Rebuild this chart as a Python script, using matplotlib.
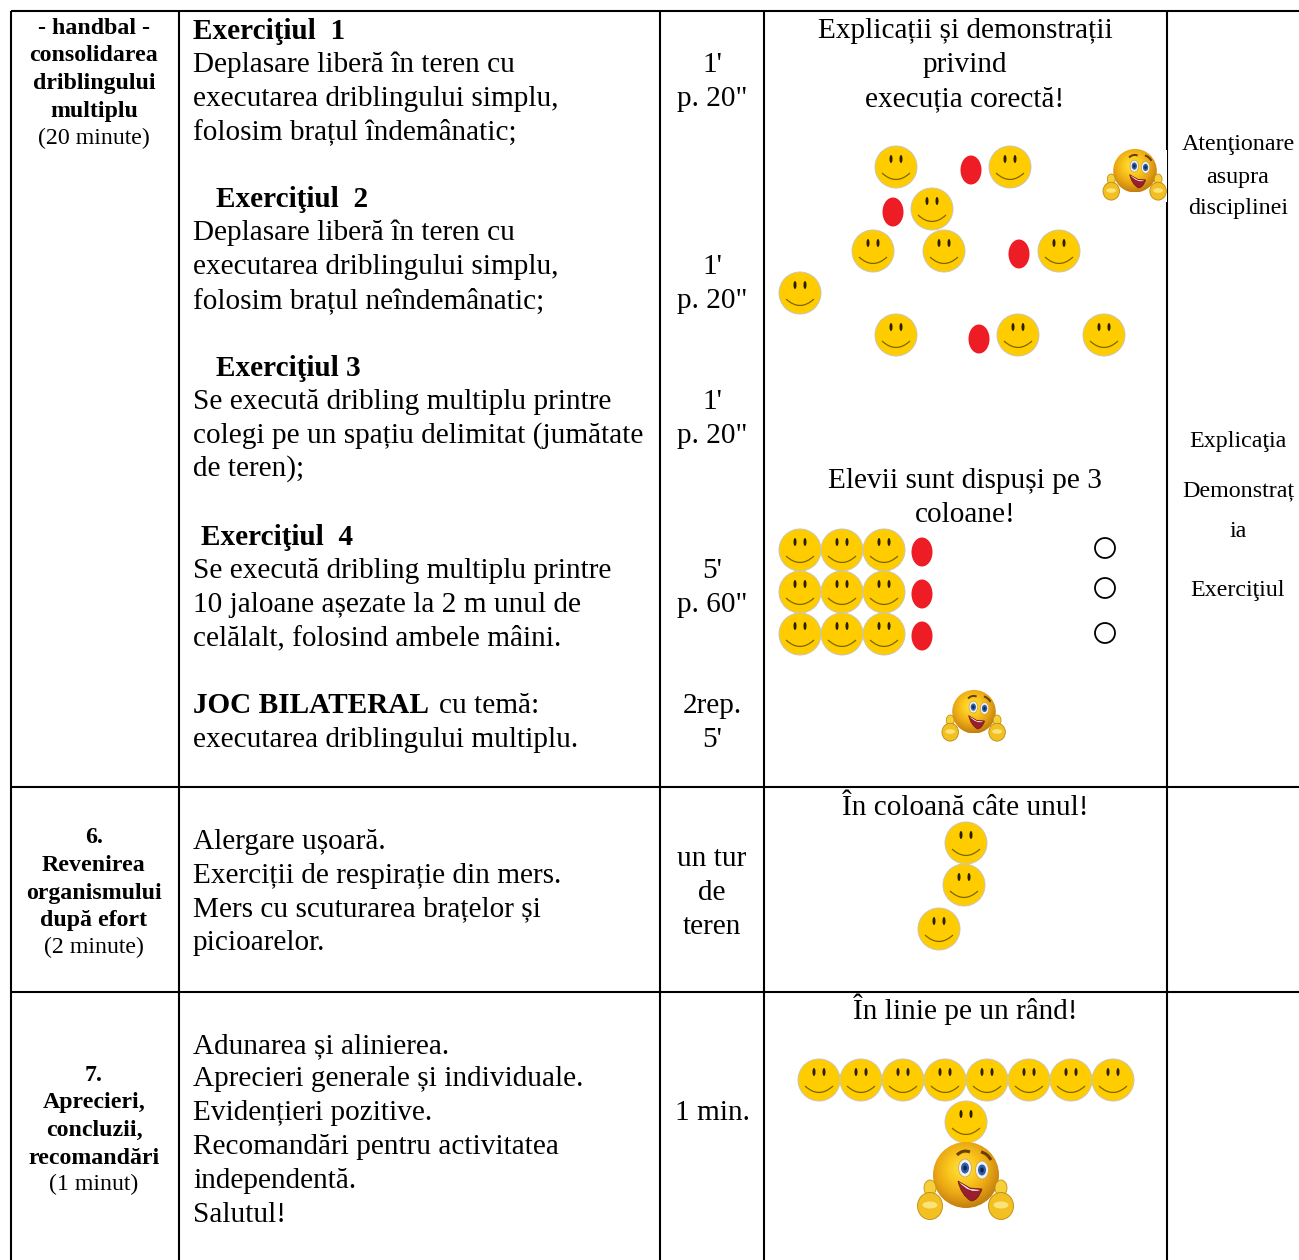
import numpy as np
import matplotlib
matplotlib.use('Agg')
import matplotlib.pyplot as plt
from matplotlib.colors import LinearSegmentedColormap
from matplotlib.patches import Circle, Ellipse, PathPatch, Rectangle
from matplotlib.path import Path

plt.rcParams['font.family'] = ['Liberation Serif', 'DejaVu Serif']

# table grid
col_lines = [11, 179, 660, 764, 1167]
row_lines = [11, 787, 992]

# left column: (baseline, text, bold)
left_col = [
    (34, '- handbal -', True), (61, 'consolidarea', True), (89, 'driblingului', True),
    (117, 'multiplu', True), (144, '(20 minute)', False),
    (843, '6.', True), (871, 'Revenirea', True), (899, 'organismului', True),
    (926, 'după efort', True), (953, '(2 minute)', False),
    (1081, '7.', True), (1108, 'Aprecieri,', True), (1136, 'concluzii,', True),
    (1164, 'recomandări', True), (1190, '(1 minut)', False),
]

# activity column: (x, baseline, text, bold)
main_col = [
    (193, 39, 'Exerciţiul  1', True),
    (193, 72, 'Deplasare liberă în teren cu', False),
    (193, 106, 'executarea driblingului simplu,', False),
    (193, 139, 'folosim brațul îndemânatic;', False),
    (216, 207, 'Exerciţiul  2', True),
    (193, 240, 'Deplasare liberă în teren cu', False),
    (193, 274, 'executarea driblingului simplu,', False),
    (193, 308, 'folosim brațul neîndemânatic;', False),
    (216, 376, 'Exerciţiul 3', True),
    (193, 409, 'Se execută dribling multiplu printre', False),
    (193, 443, 'colegi pe un spațiu delimitat (jumătate', False),
    (193, 476, 'de teren);', False),
    (201, 545, 'Exerciţiul  4', True),
    (193, 578, 'Se execută dribling multiplu printre', False),
    (193, 612, '10 jaloane așezate la 2 m unul de', False),
    (193, 645, 'celălalt, folosind ambele mâini.', False),
    (193, 713, 'JOC BILATERAL', True),
    (439, 713, 'cu temă:', False),
    (193, 747, 'executarea driblingului multiplu.', False),
    (193, 849, 'Alergare ușoară.', False),
    (193, 883, 'Exerciții de respirație din mers.', False),
    (193, 916, 'Mers cu scuturarea brațelor și', False),
    (193, 950, 'picioarelor.', False),
    (193, 1053, 'Adunarea și alinierea.', False),
    (193, 1086, 'Aprecieri generale și individuale.', False),
    (193, 1120, 'Evidențieri pozitive.', False),
    (193, 1154, 'Recomandări pentru activitatea', False),
    (193, 1188, 'independentă.', False),
    (193, 1222, 'Salutul!', False),
]

dose_col = [
    (72, "1'"), (106, 'p. 20"'), (274, "1'"), (308, 'p. 20"'),
    (409, "1'"), (443, 'p. 20"'), (578, "5'"), (612, 'p. 60"'),
    (713, '2rep.'), (747, "5'"), (866, 'un tur'), (900, 'de'), (934, 'teren'),
    (1120, '1 min.'),
]

formation_col = [
    (38, 'Explicații și demonstrații'), (72, 'privind'), (106, 'execuția corectă!'),
    (488, 'Elevii sunt dispuși pe 3'), (522, 'coloane!'),
    (815, 'În coloană câte unul!'), (1019, 'În linie pe un rând!'),
]

method_col = [
    (150, 'Atenţionare'), (183, 'asupra'), (214, 'disciplinei'),
    (447, 'Explicaţia'), (496, 'Demonstraț'), (537, 'ia'), (596, 'Exerciţiul'),
]

# drawn figures in the formation column
smileys = [
    (896, 167), (1010, 167), (932, 209), (873, 251), (944, 251), (1059, 251),
    (800, 293), (896, 335), (1018, 335), (1104, 335),
    (800, 550), (842, 550), (884, 550), (800, 592), (842, 592), (884, 592),
    (800, 634), (842, 634), (884, 634),
    (966, 843), (964, 885), (939, 929),
    (819, 1080), (861, 1080), (903, 1080), (945, 1080), (987, 1080), (1029, 1080),
    (1071, 1080), (1113, 1080), (966, 1122),
]
balls = [(971, 170), (893, 212), (1019, 254), (979, 339), (922, 552), (922, 594), (922, 636)]
cones = [(1105, 548), (1105, 588), (1105, 633)]
thumbs = [(1135, 176, 0.66), (974, 717, 0.66), (966, 1183, 1.0)]

fig = plt.figure(figsize=(12.99, 12.6), dpi=100)
ax = fig.add_axes([0, 0, 1, 1])
ax.axis('off')

for x in col_lines:
    ax.plot([x, x], [row_lines[0], 1260], color='black', lw=1.5, solid_capstyle='butt', zorder=1)
for y in row_lines:
    ax.plot([col_lines[0], 1299], [y, y], color='black', lw=1.5, solid_capstyle='butt', zorder=1)

# texts
for y, txt, bold in left_col:
    ax.text(94, y, txt, ha='center', va='baseline', fontsize=17.2,
            fontweight='bold' if bold else 'normal', color='black')
for x, y, txt, bold in main_col:
    ax.text(x, y, txt, ha='left', va='baseline', fontsize=21.1,
            fontweight='bold' if bold else 'normal', color='black')
for y, txt in dose_col:
    ax.text(712, y, txt, ha='center', va='baseline', fontsize=21.1, color='black')
for y, txt in formation_col:
    ax.text(965, y, txt, ha='center', va='baseline', fontsize=21.1, color='black')
for y, txt in method_col:
    ax.text(1238, y, txt, ha='center', va='baseline', fontsize=17.3, color='black')


def smiley(x, y, r=21):
    ax.add_patch(Circle((x, y), r, fc='#FFCC00', ec='#C9C5B5', lw=0.7, zorder=3))
    for dx in (-5, 5):
        ax.add_patch(Ellipse((x + dx, y - 8), 3, 8, fc='#2A2000', ec='none', zorder=4))
    mouth = Path([(x - 14, y + 6), (x, y + 19), (x + 14, y + 6)],
                 [Path.MOVETO, Path.CURVE3, Path.CURVE3])
    ax.add_patch(PathPatch(mouth, fc='none', ec='#7A6600', lw=0.9, zorder=4))


def thumbs_up(x, y, s):
    ax.add_patch(Rectangle((x - 49 * s, y - 40 * s), 98 * s, 79 * s, fc='white', ec='none', zorder=5))
    # shaded face
    yy, xx = np.mgrid[-1:1:120j, -1:1:120j]
    shade = np.hypot(xx + 0.1, yy + 0.2)
    cmap = LinearSegmentedColormap.from_list('face', ['#FFE14D', '#FBCB1F', '#EBA814', '#C47F10'])
    face_c = (x, y - 8 * s)
    img = ax.imshow(shade, cmap=cmap, vmin=0, vmax=1.2, zorder=6, interpolation='bilinear',
                    extent=(face_c[0] - 33 * s, face_c[0] + 33 * s, face_c[1] + 33 * s, face_c[1] - 33 * s))
    img.set_clip_path(Circle(face_c, 33 * s, transform=ax.transData))
    # hands
    for hx in (-36, 35):
        ax.add_patch(Ellipse((x + hx * s, y + 5 * s), 12 * s, 16 * s, fc='#F7CF3A', ec='#C09010', lw=0.6, zorder=7))
        ax.add_patch(Ellipse((x + hx * s, y + 23 * s), 25 * s, 27 * s, fc='#F2C020', ec='#B98A10', lw=0.6, zorder=7))
        ax.add_patch(Ellipse((x + hx * s, y + 22 * s), 15 * s, 7 * s, fc='#FBE27A', ec='none', zorder=8))
    # eyes
    for ex, ey in ((-1, -15), (16, -13)):
        ax.add_patch(Ellipse((x + ex * s, y + ey * s), 13 * s, 18 * s, fc='#EEF0F5', ec='#C9A030', lw=0.5, zorder=8))
        ax.add_patch(Ellipse((x + ex * s, y + ey * s), 8 * s, 11 * s, fc='#2F5FA8', ec='none', zorder=9))
        ax.add_patch(Ellipse((x + ex * s, y + ey * s), 3.5 * s, 5 * s, fc='#10204A', ec='none', zorder=10))
    # brows
    for pts in ([(-9, -28), (-3, -34), (4, -31)], [(15, -31), (21, -30), (25, -23)]):
        brow = Path([(x + a * s, y + b * s) for a, b in pts], [Path.MOVETO, Path.CURVE3, Path.CURVE3])
        ax.add_patch(PathPatch(brow, fc='none', ec='#6A3F08', lw=2.2 * s, zorder=9))
    # mouth
    mouth = Path([(x - 8 * s, y - 2 * s), (x + 4 * s, y + 5 * s), (x + 16 * s, y + 6 * s),
                  (x + 12 * s, y + 18 * s), (x + 5 * s, y + 18 * s), (x - 5 * s, y + 12 * s),
                  (x - 8 * s, y - 2 * s)],
                 [Path.MOVETO, Path.LINETO, Path.LINETO, Path.CURVE3, Path.CURVE3, Path.CURVE3, Path.CURVE3])
    ax.add_patch(PathPatch(mouth, fc='#9A1F2E', ec='#6A1A10', lw=0.5, zorder=9))
    teeth = Path([(x - 7 * s, y - 1 * s), (x + 4 * s, y + 6 * s), (x + 14 * s, y + 7 * s),
                  (x + 4 * s, y + 11 * s), (x - 7 * s, y - 1 * s)],
                 [Path.MOVETO, Path.LINETO, Path.LINETO, Path.CURVE3, Path.CURVE3])
    ax.add_patch(PathPatch(teeth, fc='white', ec='none', zorder=10))


for x, y in smileys:
    smiley(x, y)
for x, y in balls:
    ax.add_patch(Ellipse((x, y), 21, 29, fc='#EE1C25', ec='none', zorder=3))
for x, y in cones:
    ax.add_patch(Circle((x, y), 10, fc='white', ec='black', lw=1.3, zorder=3))
for x, y, s in thumbs:
    thumbs_up(x, y, s)

ax.set_xlim(0, 1299)
ax.set_ylim(1260, 0)
ax.set_aspect('auto')

plt.savefig('out.png', dpi=100, facecolor='white')
plt.close()
